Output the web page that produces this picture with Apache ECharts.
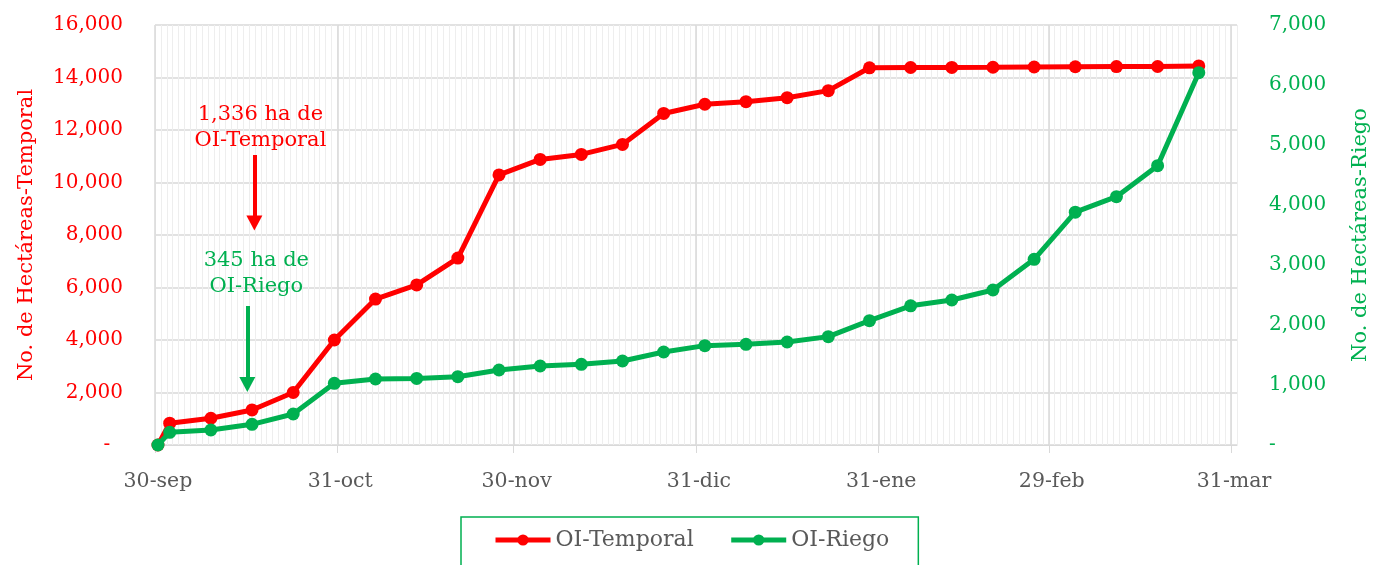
<!DOCTYPE html>
<html><head><meta charset="utf-8">
<script src="https://cdn.jsdelivr.net/npm/echarts@6/dist/echarts.min.js"></script>
<style>html,body{margin:0;padding:0;background:#fff}#c{width:1373px;height:565px}</style>
</head><body><div id="c"></div>
<script>
const dates = ['2023-09-30','2023-10-02','2023-10-09','2023-10-16','2023-10-23','2023-10-30','2023-11-06','2023-11-13','2023-11-20','2023-11-27','2023-12-04','2023-12-11','2023-12-18','2023-12-25','2024-01-01','2024-01-08','2024-01-15','2024-01-22','2024-01-29','2024-02-05','2024-02-12','2024-02-19','2024-02-26','2024-03-04','2024-03-11','2024-03-18','2024-03-25'];
const temporal = [0, 830, 1020, 1336, 2000, 4000, 5560, 6100, 7120, 10290, 10880, 11070, 11450, 12630, 12980, 13080, 13230, 13500, 14370, 14380, 14385, 14390, 14400, 14410, 14415, 14420, 14440];
const riego = [0, 212, 250, 345, 517, 1028, 1100, 1110, 1139, 1250, 1317, 1344, 1400, 1550, 1656, 1678, 1717, 1806, 2072, 2320, 2417, 2583, 3094, 3880, 4139, 4656, 6206];
const monthTicks = ['2023-09-30','2023-10-31','2023-11-30','2023-12-31','2024-01-31','2024-02-29','2024-03-31'];
const monthLabels = ['30-sep','31-oct','30-nov','31-dic','31-ene','29-feb','31-mar'];
const seriesNames = ['OI-Temporal','OI-Riego'];
// annotation arrows (x in days, y in axis units)
const annotTemporal = {x: 16.9, from: 11048, to: 8457};
const annotRiego = {x: 15.7, from: 2317, to: 1008};

const RED = '#ff0000', GREEN = '#00b050', GRAY = '#595959', FONT = 'DejaVu Serif';
const start = Date.UTC(2023, 8, 30);
function dayIdx(s){ const [y,m,d] = s.split('-').map(Number); return Math.round((Date.UTC(y,m-1,d) - start)/86400000); }
const xMax = dayIdx(monthTicks[monthTicks.length-1]) + 1;
const tickVals = monthTicks.map(dayIdx);
const labelVals = tickVals.map(v => v + 0.5);
const labelMap = {}; labelVals.forEach((v,i) => labelMap[v] = monthLabels[i]);
const fmt = v => v === 0 ? '-  ' : v.toLocaleString('en-US');
const fmtR = v => v === 0 ? '-' : v.toLocaleString('en-US');

const chart = echarts.init(document.getElementById('c'));
chart.setOption({
  animation: false,
  textStyle: {fontFamily: FONT},
  grid: {left: 155, right: 136, top: 25, bottom: 120, containLabel: false, outerBoundsMode: 'none'},
  legend: {
    data: seriesNames, left: 461, top: 517, itemWidth: 55, itemHeight: 14, itemGap: 35,
    padding: [12, 29, 20, 32], borderColor: GREEN, borderWidth: 1.5,
    lineStyle: {width: 5},
    textStyle: {color: GRAY, fontSize: 22, fontFamily: FONT}
  },
  xAxis: [{
    type: 'value', min: 0, max: xMax, z: 1,
    axisLine: {show: true, lineStyle: {color: '#d9d9d9', width: 1}},
    axisTick: {show: true, customValues: tickVals, length: 8, lineStyle: {color: '#d9d9d9'}},
    axisLabel: {customValues: labelVals, formatter: v => labelMap[v] || '', color: GRAY, fontSize: 20.5, fontFamily: FONT, margin: 26},
    splitLine: {show: true, lineStyle: {color: '#d9d9d9', width: 1.5}}
  }, {
    type: 'value', min: 0, max: xMax, interval: 1, z: 0, position: 'bottom',
    axisLine: {show: false}, axisTick: {show: false}, axisLabel: {show: false},
    splitLine: {show: true, lineStyle: {color: '#eeeeee', width: 1}}
  }],
  yAxis: [{
    type: 'value', min: 0, max: 16000, interval: 2000,
    axisLine: {show: false}, axisTick: {show: false},
    axisLabel: {color: RED, fontSize: 20, fontFamily: FONT, margin: 32, formatter: fmt},
    splitLine: {show: true, lineStyle: {color: '#d9d9d9', width: 1.5}},
    name: 'No. de Hectáreas-Temporal', nameLocation: 'middle', nameRotate: 90, nameGap: 118,
    nameTextStyle: {color: RED, fontSize: 21, fontFamily: FONT}
  }, {
    type: 'value', min: 0, max: 7000, interval: 1000, position: 'right',
    axisLine: {show: false}, axisTick: {show: false},
    axisLabel: {color: GREEN, fontSize: 20, fontFamily: FONT, margin: 32, formatter: fmtR},
    splitLine: {show: false},
    name: 'No. de Hectáreas-Riego', nameLocation: 'middle', nameRotate: 90, nameGap: 113,
    nameTextStyle: {color: GREEN, fontSize: 21, fontFamily: FONT}
  }],
  series: [{
    name: seriesNames[0], type: 'line', xAxisIndex: 0, yAxisIndex: 0,
    data: dates.map((d,i) => [dayIdx(d) + 0.5, temporal[i]]),
    symbol: 'circle', symbolSize: 13, color: RED, lineStyle: {width: 5, color: RED}, z: 3,
    markLine: {
      silent: true, symbol: ['none','triangle'], symbolSize: [16, 15],
      lineStyle: {color: RED, width: 4, type: 'solid'},
      label: {show: true, position: 'start', distance: 1, offset: [6, 0], color: RED, fontSize: 21, lineHeight: 26, fontFamily: FONT,
        formatter: temporal[3].toLocaleString('en-US') + ' ha de\n' + seriesNames[0]},
      data: [[{coord: [annotTemporal.x, annotTemporal.from]}, {coord: [annotTemporal.x, annotTemporal.to]}]]
    }
  }, {
    name: seriesNames[1], type: 'line', xAxisIndex: 0, yAxisIndex: 1,
    data: dates.map((d,i) => [dayIdx(d) + 0.5, riego[i]]),
    symbol: 'circle', symbolSize: 13, color: GREEN, lineStyle: {width: 5, color: GREEN}, z: 4,
    markLine: {
      silent: true, symbol: ['none','triangle'], symbolSize: [16, 15],
      lineStyle: {color: GREEN, width: 4, type: 'solid'},
      label: {show: true, position: 'start', distance: 6, offset: [9, 0], color: GREEN, fontSize: 21, lineHeight: 26, fontFamily: FONT,
        formatter: riego[3].toLocaleString('en-US') + ' ha de\n' + seriesNames[1]},
      data: [[{coord: [annotRiego.x, annotRiego.from]}, {coord: [annotRiego.x, annotRiego.to]}]]
    }
  }]
});
</script></body></html>
